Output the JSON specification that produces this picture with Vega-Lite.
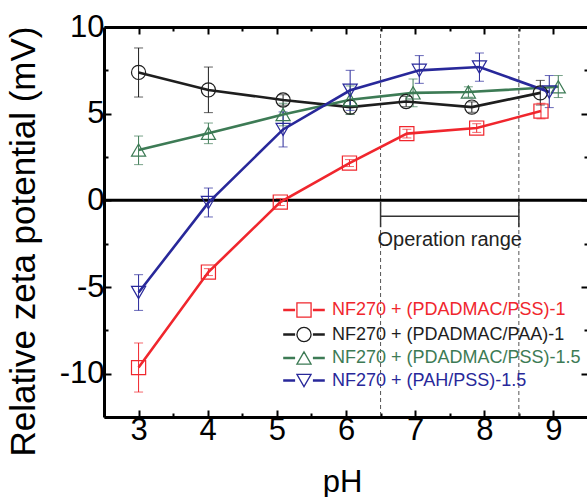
{
  "$schema": "https://vega.github.io/schema/vega-lite/v6.json",
  "width": 484,
  "height": 390,
  "autosize": {"type": "none"},
  "padding": {"left": 104, "top": 27, "right": 0, "bottom": 80},
  "background": "white",
  "config": {
    "view": {"stroke": null},
    "font": "Liberation Sans",
    "axis": {"labelFont": "Liberation Sans", "titleFont": "Liberation Sans", "grid": false},
    "legend": {"labelFont": "Liberation Sans"},
    "text": {"font": "Liberation Sans"}
  },
  "datasets": {
    "pts": [
      {"s": "NF270 + (PDADMAC/PSS)-1", "pH": 3.0, "z": -9.65, "lo": -11.06, "hi": -8.23},
      {"s": "NF270 + (PDADMAC/PSS)-1", "pH": 4.01, "z": -4.14, "lo": -4.34, "hi": -3.94},
      {"s": "NF270 + (PDADMAC/PSS)-1", "pH": 5.05, "z": -0.1, "lo": -0.3, "hi": 0.1},
      {"s": "NF270 + (PDADMAC/PSS)-1", "pH": 6.05, "z": 2.15, "lo": 1.95, "hi": 2.35},
      {"s": "NF270 + (PDADMAC/PSS)-1", "pH": 6.88, "z": 3.85, "lo": 3.6, "hi": 4.1},
      {"s": "NF270 + (PDADMAC/PSS)-1", "pH": 7.89, "z": 4.17, "lo": 3.92, "hi": 4.42},
      {"s": "NF270 + (PDADMAC/PSS)-1", "pH": 8.82, "z": 5.15, "lo": 4.7, "hi": 5.6},
      {"s": "NF270 + (PDADMAC/PAA)-1", "pH": 3.0, "z": 7.38, "lo": 5.96, "hi": 8.79},
      {"s": "NF270 + (PDADMAC/PAA)-1", "pH": 4.01, "z": 6.37, "lo": 5.06, "hi": 7.69},
      {"s": "NF270 + (PDADMAC/PAA)-1", "pH": 5.09, "z": 5.79, "lo": 5.49, "hi": 6.09},
      {"s": "NF270 + (PDADMAC/PAA)-1", "pH": 6.06, "z": 5.38, "lo": 4.98, "hi": 5.78},
      {"s": "NF270 + (PDADMAC/PAA)-1", "pH": 6.87, "z": 5.7, "lo": 5.4, "hi": 6.0},
      {"s": "NF270 + (PDADMAC/PAA)-1", "pH": 7.82, "z": 5.38, "lo": 5.08, "hi": 5.68},
      {"s": "NF270 + (PDADMAC/PAA)-1", "pH": 8.81, "z": 6.2, "lo": 5.5, "hi": 6.92},
      {"s": "NF270 + (PDADMAC/PSS)-1.5", "pH": 3.0, "z": 2.9, "lo": 2.06, "hi": 3.71},
      {"s": "NF270 + (PDADMAC/PSS)-1.5", "pH": 4.01, "z": 3.87, "lo": 3.27, "hi": 4.46},
      {"s": "NF270 + (PDADMAC/PSS)-1.5", "pH": 5.09, "z": 4.95, "lo": 4.3, "hi": 5.6},
      {"s": "NF270 + (PDADMAC/PSS)-1.5", "pH": 6.06, "z": 5.8, "lo": 4.95, "hi": 6.6},
      {"s": "NF270 + (PDADMAC/PSS)-1.5", "pH": 6.97, "z": 6.2, "lo": 5.4, "hi": 7.0},
      {"s": "NF270 + (PDADMAC/PSS)-1.5", "pH": 7.77, "z": 6.25, "lo": 5.95, "hi": 6.55},
      {"s": "NF270 + (PDADMAC/PSS)-1.5", "pH": 9.07, "z": 6.55, "lo": 5.93, "hi": 7.2},
      {"s": "NF270 + (PAH/PSS)-1.5", "pH": 3.0, "z": -5.32, "lo": -6.35, "hi": -4.29},
      {"s": "NF270 + (PAH/PSS)-1.5", "pH": 4.01, "z": -0.13, "lo": -0.96, "hi": 0.71},
      {"s": "NF270 + (PAH/PSS)-1.5", "pH": 5.09, "z": 4.09, "lo": 3.08, "hi": 5.1},
      {"s": "NF270 + (PAH/PSS)-1.5", "pH": 6.06, "z": 6.35, "lo": 5.19, "hi": 7.5},
      {"s": "NF270 + (PAH/PSS)-1.5", "pH": 7.06, "z": 7.5, "lo": 6.75, "hi": 8.35},
      {"s": "NF270 + (PAH/PSS)-1.5", "pH": 7.93, "z": 7.69, "lo": 6.87, "hi": 8.5},
      {"s": "NF270 + (PAH/PSS)-1.5", "pH": 8.94, "z": 6.25, "lo": 5.35, "hi": 7.2}
    ],
    "range": [{"x": 6.5}, {"x": 8.5}],
    "one": [{"label": "Operation range"}]
  },
  "layer": [
    {
      "data": {"name": "range"},
      "mark": {"type": "rule", "strokeDash": [4, 3], "color": "#555555", "strokeWidth": 1},
      "encoding": {
        "x": {"field": "x", "type": "quantitative", "scale": {"domain": [2.5, 9.5], "nice": false, "zero": false}, "axis": null}
      }
    },
    {
      "data": {"name": "one"},
      "mark": {"type": "rule", "color": "black", "strokeWidth": 3},
      "encoding": {
        "y": {"datum": 0, "type": "quantitative", "scale": {"domain": [-12.5, 10], "nice": false, "zero": false}, "axis": null}
      }
    },
    {
      "data": {"name": "one"},
      "mark": {"type": "rule", "color": "#333333", "strokeWidth": 1.5},
      "encoding": {
        "x": {"datum": 6.5, "type": "quantitative", "axis": null},
        "x2": {"datum": 8.5},
        "y": {"datum": -0.92, "type": "quantitative", "axis": null}
      }
    },
    {
      "data": {"name": "range"},
      "mark": {"type": "rule", "color": "#333333", "strokeWidth": 1.5},
      "encoding": {
        "x": {"field": "x", "type": "quantitative", "axis": null},
        "y": {"datum": -0.1, "type": "quantitative", "axis": null},
        "y2": {"datum": -1.55}
      }
    },
    {
      "data": {"name": "one"},
      "mark": {"type": "text", "fontSize": 20, "color": "#222222", "baseline": "middle", "align": "center"},
      "encoding": {
        "text": {"field": "label"},
        "x": {"datum": 7.5, "type": "quantitative", "axis": null},
        "y": {"datum": -2.3, "type": "quantitative", "axis": null}
      }
    },
    {
      "data": {"name": "pts"},
      "mark": {"type": "rule", "strokeWidth": 1},
      "encoding": {
        "x": {"field": "pH", "type": "quantitative", "axis": null},
        "y": {"field": "lo", "type": "quantitative", "axis": null},
        "y2": {"field": "hi"},
        "color": {"field": "s", "type": "nominal", "legend": null}
      }
    },
    {
      "data": {"name": "pts"},
      "mark": {"type": "tick", "orient": "horizontal", "size": 9, "thickness": 1},
      "encoding": {
        "x": {"field": "pH", "type": "quantitative", "axis": null},
        "y": {"field": "lo", "type": "quantitative", "axis": null},
        "color": {"field": "s", "type": "nominal", "legend": null}
      }
    },
    {
      "data": {"name": "pts"},
      "mark": {"type": "tick", "orient": "horizontal", "size": 9, "thickness": 1},
      "encoding": {
        "x": {"field": "pH", "type": "quantitative", "axis": null},
        "y": {"field": "hi", "type": "quantitative", "axis": null},
        "color": {"field": "s", "type": "nominal", "legend": null}
      }
    },
    {
      "data": {"name": "pts"},
      "mark": {"type": "line", "strokeWidth": 2.6},
      "encoding": {
        "x": {
          "field": "pH", "type": "quantitative",
          "scale": {"domain": [2.5, 9.5], "nice": false, "zero": false},
          "axis": {
            "orient": "bottom",
            "values": [3, 3.5, 4, 4.5, 5, 5.5, 6, 6.5, 7, 7.5, 8, 8.5, 9],
            "labelExpr": "datum.value % 1 === 0 ? '' + datum.value : ''",
            "tickSize": {"condition": {"test": "datum.value % 1 === 0", "value": -7}, "value": -4},
            "tickWidth": 2, "tickColor": "black",
            "domainWidth": 3, "domainColor": "black",
            "labelFontSize": 31, "labelColor": "black", "labelBaseline": "alphabetic", "labelPadding": 29,
            "labelFlush": false, "labelOverlap": false,
            "title": "pH", "titleFontSize": 31, "titleFontWeight": "normal", "titleColor": "black",
            "titleX": 238, "titleY": 74, "titleBaseline": "alphabetic", "titleAlign": "center"
          }
        },
        "y": {
          "field": "z", "type": "quantitative",
          "scale": {"domain": [-12.5, 10], "nice": false, "zero": false},
          "axis": {
            "orient": "left",
            "values": [-12.5, -10, -7.5, -5, -2.5, 0, 2.5, 5, 7.5, 10],
            "labelExpr": "datum.value % 5 === 0 ? '' + datum.value : ''",
            "tickSize": {"condition": {"test": "datum.value % 5 === 0", "value": -7}, "value": -4},
            "tickWidth": 2, "tickColor": "black",
            "domainWidth": 3, "domainColor": "black",
            "labelFontSize": 31, "labelColor": "black", "labelPadding": 7,
            "labelFlush": false, "labelOverlap": false,
            "title": "Relative zeta potential (mV)", "titleFontSize": 35, "titleFontWeight": "normal", "titleColor": "black",
            "titleX": -63, "titleY": 214, "titleBaseline": "bottom", "titleAlign": "center", "titleAngle": -90
          }
        },
        "color": {"field": "s", "type": "nominal", "legend": null},
        "detail": {"field": "s"}
      }
    },
    {
      "data": {"name": "pts"},
      "mark": {"type": "point", "filled": false, "size": 200, "strokeWidth": 1.2, "opacity": 1},
      "encoding": {
        "x": {
          "field": "pH", "type": "quantitative",
          "axis": {
            "orient": "top",
            "values": [3, 3.5, 4, 4.5, 5, 5.5, 6, 6.5, 7, 7.5, 8, 8.5, 9],
            "labels": false,
            "tickSize": {"condition": {"test": "datum.value % 1 === 0", "value": -7}, "value": -4},
            "tickWidth": 2, "tickColor": "black",
            "domainWidth": 3, "domainColor": "black",
            "title": null
          }
        },
        "y": {
          "field": "z", "type": "quantitative",
          "axis": {
            "orient": "right",
            "values": [-12.5, -10, -7.5, -5, -2.5, 0, 2.5, 5, 7.5, 10],
            "labels": false,
            "tickSize": {"condition": {"test": "datum.value % 5 === 0", "value": -7}, "value": -4},
            "tickWidth": 2, "tickColor": "black",
            "domainWidth": 3, "domainColor": "black",
            "title": null
          }
        },
        "color": {
          "field": "s", "type": "nominal",
          "scale": {
            "domain": ["NF270 + (PDADMAC/PSS)-1", "NF270 + (PDADMAC/PAA)-1", "NF270 + (PDADMAC/PSS)-1.5", "NF270 + (PAH/PSS)-1.5"],
            "range": ["#f0262d", "#1e1e1e", "#3d7b55", "#28289a"]
          },
          "legend": {
            "orient": "none", "legendX": 191, "legendY": 274,
            "title": null, "padding": 0,
            "labelFontSize": 18, "labelLimit": 600, "labelOffset": 19,
            "symbolSize": 200, "symbolStrokeWidth": 1.3, "rowPadding": 4.5,
            "symbolFillColor": "transparent",
            "symbolType": {"expr": "datum.value === 'NF270 + (PDADMAC/PSS)-1' ? 'M-2.85,-0.1H-1.35V0.1H-2.85ZM1.35,-0.1H2.85V0.1H1.35ZM-1,-1H1V1H-1Z' : datum.value === 'NF270 + (PDADMAC/PAA)-1' ? 'M-2.85,-0.1H-1.35V0.1H-2.85ZM1.35,-0.1H2.85V0.1H1.35ZM1,0A1,1,0,1,1,-1,0A1,1,0,1,1,1,0Z' : datum.value === 'NF270 + (PDADMAC/PSS)-1.5' ? 'M-2.85,-0.1H-1.35V0.1H-2.85ZM1.35,-0.1H2.85V0.1H1.35ZM0,-0.87L1,0.87H-1Z' : 'M-2.85,-0.1H-1.35V0.1H-2.85ZM1.35,-0.1H2.85V0.1H1.35ZM0,0.87L1,-0.87H-1Z'"},
            "labelColor": {"expr": "scale('color', datum.value)"}
          }
        },
        "shape": {
          "field": "s", "type": "nominal",
          "scale": {
            "domain": ["NF270 + (PDADMAC/PAA)-1", "NF270 + (PDADMAC/PSS)-1", "NF270 + (PDADMAC/PSS)-1.5", "NF270 + (PAH/PSS)-1.5"],
            "range": ["circle", "square", "triangle-up", "triangle-down"]
          },
          "legend": null
        }
      }
    }
  ],
  "resolve": {"axis": {"x": "independent", "y": "independent"}, "legend": {"color": "independent", "shape": "independent"}}
}
